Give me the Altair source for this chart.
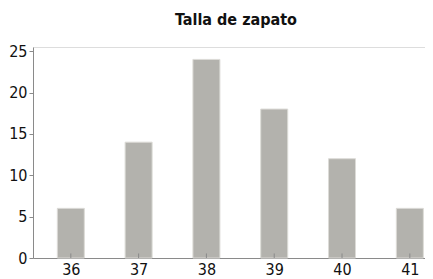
import altair as alt
import pandas as pd

sizes = [36, 37, 38, 39, 40, 41]
counts = [6, 14, 24, 18, 12, 6]
y_ticks = [0, 2.5, 5, 7.5, 10, 12.5, 15, 17.5, 20, 22.5, 25]

df = pd.DataFrame({"talla": sizes, "n": counts})

font = "DejaVu Sans Condensed"

xscale = alt.Scale(domain=[35.516, 41.15], nice=False, zero=False)
yscale = alt.Scale(domain=[0, 25.5], nice=False)

bars = alt.Chart(df).mark_bar(
    width=27, color="#b3b2ad", stroke="#dcdbd7", strokeWidth=1
).encode(
    x=alt.X("talla:Q", scale=xscale, title=None,
            axis=alt.Axis(values=sizes, format="d", grid=False, ticks=False,
                          domainColor="#8a8a8a", labelFontSize=16,
                          labelColor="#111111", labelFont=font, labelPadding=3)),
    y=alt.Y("n:Q", scale=yscale, title=None,
            axis=alt.Axis(values=y_ticks, labelExpr="datum.value % 5 == 0 ? datum.label : ''",
                          gridColor="#ffffff", gridWidth=1.2, tickColor="#8a8a8a",
                          tickSize=4, domainColor="#8a8a8a", labelFontSize=16,
                          labelColor="#111111", labelFont=font, labelPadding=2)),
)

tick_df = pd.DataFrame({"talla": sizes, "lo": [0.0] * 6, "hi": [0.55] * 6})
xticks = alt.Chart(tick_df).mark_rule(color="#8a8a8a").encode(
    x=alt.X("talla:Q", scale=xscale),
    y=alt.Y("lo:Q", scale=yscale),
    y2="hi:Q",
)

chart = alt.layer(bars, xticks).properties(
    width=417, height=269,
    autosize=alt.AutoSizeParams(type="fit", contains="padding"),
    title=alt.TitleParams("Talla de zapato", font=font, fontSize=16,
                          fontWeight="bold", color="#111111", offset=15,
                          anchor="middle", dx=7),
).configure_view(fill="#f0efed", stroke=None).configure(padding={"left": 0, "top": 5, "right": 0, "bottom": 0})

chart.save("out.html", embed_options={"renderer": "svg", "actions": False})
